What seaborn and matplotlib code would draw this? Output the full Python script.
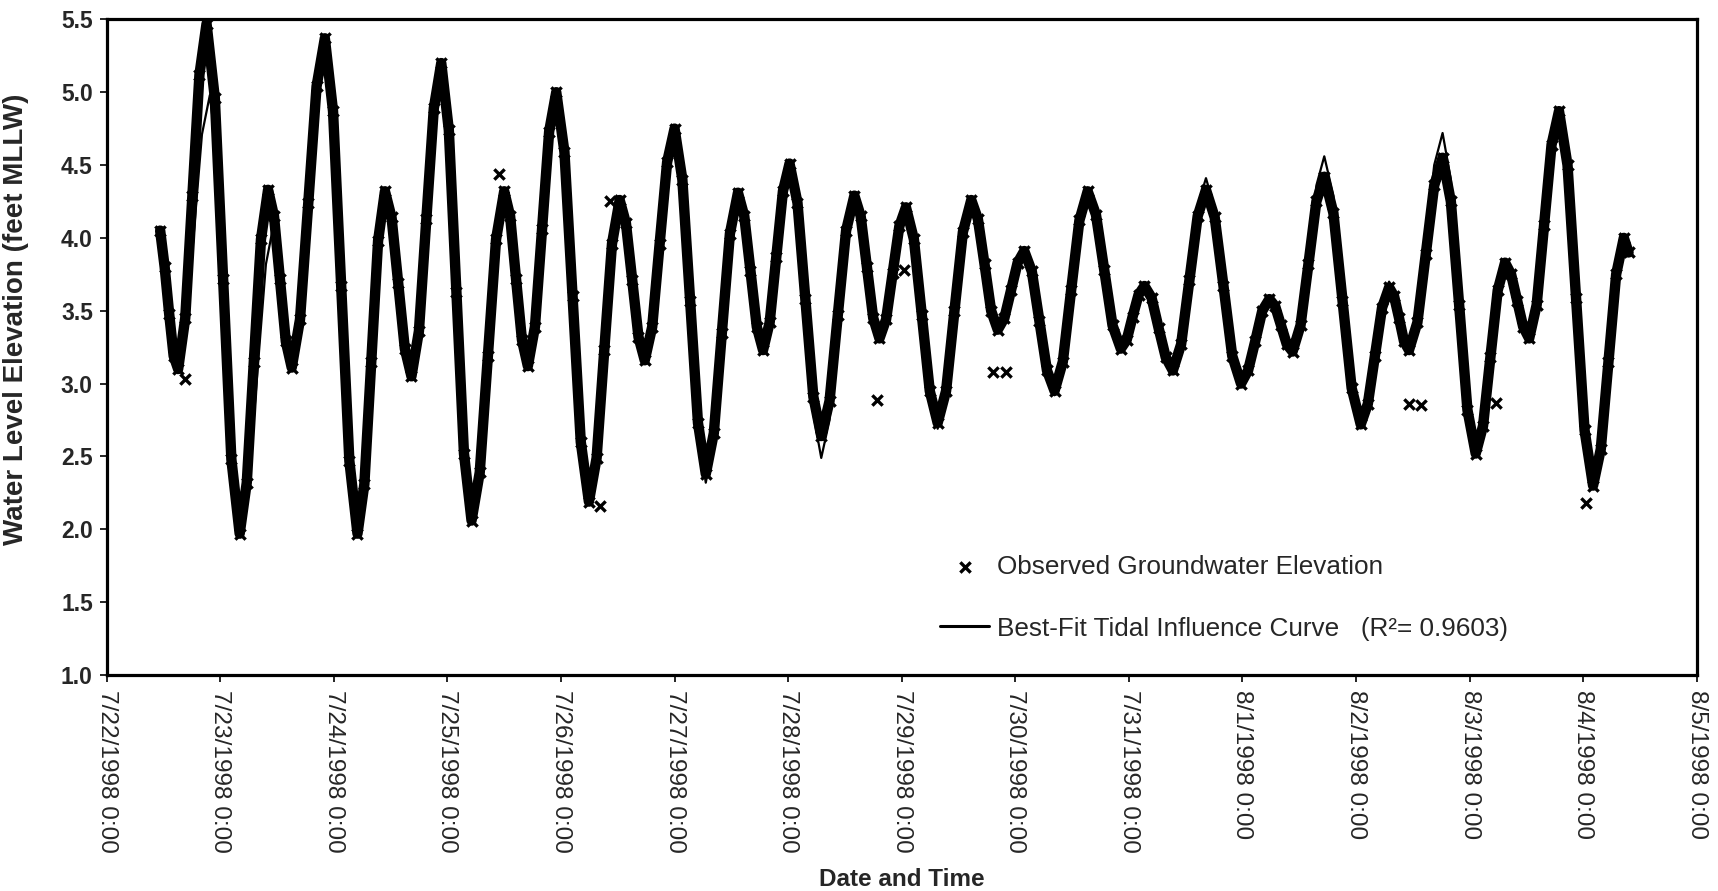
import pandas as pd
import matplotlib.pyplot as plt
import seaborn as sns

# ====== Values ======
# times are hours after 7/22/1998 0:00, levels in feet MLLW
start = pd.Timestamp("1998-07-22 00:00")

obs_hours = [
    11.3, 12.25, 13.2, 14.15,
    15.1, 16.6, 18.1, 19.6,
    21.1, 22.85, 24.6, 26.35,
    28.1, 29.6, 31.1, 32.6,
    34.1, 35.35, 36.6, 37.85,
    39.1, 40.85, 42.6, 44.35,
    46.1, 47.83, 49.55, 51.28,
    53.0, 54.45, 55.9, 57.35,
    58.8, 60.2, 61.6, 63.0,
    64.4, 65.98, 67.55, 69.13,
    70.7, 72.3, 73.9, 75.5,
    77.1, 78.83, 80.55, 82.28,
    84.0, 85.25, 86.5, 87.75,
    89.0, 90.5, 92.0, 93.5,
    95.0, 96.73, 98.45, 100.18,
    101.9, 103.53, 105.15, 106.78,
    108.4, 109.73, 111.05, 112.38,
    113.7, 115.28, 116.85, 118.43,
    120.0, 121.65, 123.3, 124.95,
    126.6, 128.3, 130.0, 131.7,
    133.4, 134.73, 136.05, 137.38,
    138.7, 140.1, 141.5, 142.9,
    144.3, 145.98, 147.65, 149.33,
    151.0, 152.75, 154.5, 156.25,
    158.0, 159.33, 160.65, 161.98,
    163.3, 164.7, 166.1, 167.5,
    168.9, 170.58, 172.25, 173.93,
    175.6, 177.38, 179.15, 180.93,
    182.7, 184.1, 185.5, 186.9,
    188.3, 189.7, 191.1, 192.5,
    193.9, 195.5, 197.1, 198.7,
    200.3, 202.05, 203.8, 205.55,
    207.3, 209.05, 210.8, 212.55,
    214.3, 215.55, 216.8, 218.05,
    219.3, 220.8, 222.3, 223.8,
    225.3, 227.05, 228.8, 230.55,
    232.3, 234.15, 236.0, 237.85,
    239.7, 241.2, 242.7, 244.2,
    245.7, 246.93, 248.15, 249.38,
    250.6, 252.28, 253.95, 255.63,
    257.3, 259.23, 261.15, 263.08,
    265.0, 266.5, 268.0, 269.5,
    271.0, 272.05, 273.1, 274.15,
    275.2, 276.98, 278.75, 280.53,
    282.3, 284.05, 285.8, 287.55,
    289.3, 290.85, 292.4, 293.95,
    295.5, 296.78, 298.05, 299.33,
    300.6, 302.18, 303.75, 305.33,
    306.9, 308.7, 310.5, 312.3,
    314.1, 315.73, 317.35, 318.98,
    320.6, 321.6,
]
obs_level = [
    4.05, 3.80, 3.48, 3.19,
    3.10, 3.45, 4.29, 5.12,
    5.47, 4.96, 3.72, 2.48,
    1.97, 2.32, 3.15, 3.99,
    4.33, 4.15, 3.72, 3.29,
    3.11, 3.44, 4.24, 5.04,
    5.37, 4.87, 3.67, 2.47,
    1.97, 2.31, 3.15, 3.98,
    4.32, 4.14, 3.69, 3.24,
    3.05, 3.36, 4.13, 4.89,
    5.20, 4.74, 3.63, 2.52,
    2.06, 2.39, 3.19, 3.99,
    4.32, 4.15, 3.72, 3.30,
    3.12, 3.39, 4.06, 4.73,
    5.00, 4.59, 3.60, 2.60,
    2.19, 2.49, 3.23, 3.96,
    4.26, 4.10, 3.71, 3.32,
    3.16, 3.39, 3.96, 4.52,
    4.75, 4.40, 3.57, 2.73,
    2.38, 2.66, 3.35, 4.03,
    4.31, 4.15, 3.77, 3.39,
    3.23, 3.42, 3.87, 4.32,
    4.51, 4.24, 3.58, 2.91,
    2.64, 2.88, 3.47, 4.05,
    4.29, 4.15, 3.80, 3.45,
    3.31, 3.44, 3.76, 4.08,
    4.21, 3.99, 3.47, 2.95,
    2.73, 2.95, 3.50, 4.04,
    4.26, 4.13, 3.82, 3.50,
    3.37, 3.45, 3.64, 3.83,
    3.91, 3.77, 3.43, 3.09,
    2.95, 3.15, 3.64, 4.12,
    4.32, 4.16, 3.78, 3.40,
    3.24, 3.30, 3.46, 3.61,
    3.67, 3.59, 3.38, 3.18,
    3.09, 3.27, 3.71, 4.15,
    4.33, 4.14, 3.67, 3.19,
    3.00, 3.09, 3.29, 3.50,
    3.58, 3.53, 3.40, 3.27,
    3.22, 3.40, 3.82, 4.25,
    4.42, 4.17, 3.57, 2.97,
    2.72, 2.86, 3.19, 3.52,
    3.66, 3.60, 3.45, 3.29,
    3.23, 3.42, 3.89, 4.36,
    4.55, 4.25, 3.54, 2.82,
    2.52, 2.71, 3.18, 3.64,
    3.83, 3.75, 3.57, 3.39,
    3.31, 3.54, 4.09, 4.64,
    4.87, 4.50, 3.59, 2.68,
    2.30, 2.55, 3.15, 3.75,
    4.00, 3.90,
]

# stray readings off the main band
stray_hours = [16.5, 83.0, 104.2, 106.3, 162.8, 168.4, 187.3, 190.0,
               275.2, 277.7, 293.6, 312.6]
stray_level = [3.03, 4.44, 2.16, 4.25, 2.89, 3.78, 3.08, 3.08,
               2.86, 2.85, 2.87, 2.18]

fit_hours = [
    11.3, 12.25, 13.2, 14.15,
    15.1, 16.78, 18.45, 20.13,
    21.8, 23.38, 24.95, 26.53,
    28.1, 29.95, 31.8, 33.65,
    35.5, 36.43, 37.35, 38.28,
    39.2, 40.9, 42.6, 44.35,
    46.1, 47.83, 49.55, 51.28,
    53.0, 54.45, 55.9, 57.35,
    58.8, 60.2, 61.6, 63.0,
    64.4, 65.98, 67.55, 69.13,
    70.7, 72.3, 73.9, 75.5,
    77.1, 78.83, 80.55, 82.28,
    84.0, 85.25, 86.5, 87.75,
    89.0, 90.5, 92.0, 93.5,
    95.0, 96.73, 98.45, 100.18,
    101.9, 103.53, 105.15, 106.78,
    108.4, 109.73, 111.05, 112.38,
    113.7, 115.28, 116.85, 118.43,
    120.0, 121.65, 123.3, 124.95,
    126.6, 128.3, 130.0, 131.7,
    133.4, 134.73, 136.05, 137.38,
    138.7, 140.1, 141.5, 142.9,
    144.3, 145.98, 147.65, 149.33,
    151.0, 152.75, 154.5, 156.25,
    158.0, 159.33, 160.65, 161.98,
    163.3, 164.7, 166.1, 167.5,
    168.9, 170.58, 172.25, 173.93,
    175.6, 177.38, 179.15, 180.93,
    182.7, 184.1, 185.5, 186.9,
    188.3, 189.7, 191.1, 192.5,
    193.9, 195.5, 197.1, 198.7,
    200.3, 202.05, 203.8, 205.55,
    207.3, 209.05, 210.8, 212.55,
    214.3, 215.55, 216.8, 218.05,
    219.3, 220.8, 222.3, 223.8,
    225.3, 227.05, 228.8, 230.55,
    232.3, 234.15, 236.0, 237.85,
    239.7, 241.2, 242.7, 244.2,
    245.7, 246.93, 248.15, 249.38,
    250.6, 252.28, 253.95, 255.63,
    257.3, 259.23, 261.15, 263.08,
    265.0, 266.5, 268.0, 269.5,
    271.0, 272.05, 273.1, 274.15,
    275.2, 276.98, 278.75, 280.53,
    282.3, 284.05, 285.8, 287.55,
    289.3, 290.85, 292.4, 293.95,
    295.5, 296.78, 298.05, 299.33,
    300.6, 302.18, 303.75, 305.33,
    306.9, 308.7, 310.5, 312.3,
    314.1, 315.73, 317.35, 318.98,
    320.6, 321.6,
]
fit_level = [
    4.05, 3.80, 3.48, 3.20,
    3.12, 3.39, 4.05, 4.71,
    4.98, 4.54, 3.48, 2.42,
    1.98, 2.29, 3.06, 3.82,
    4.13, 3.99, 3.64, 3.29,
    3.14, 3.44, 4.24, 5.04,
    5.37, 4.87, 3.67, 2.47,
    1.97, 2.31, 3.15, 3.98,
    4.32, 4.14, 3.69, 3.24,
    3.05, 3.36, 4.13, 4.89,
    5.20, 4.74, 3.63, 2.52,
    2.06, 2.39, 3.19, 3.99,
    4.32, 4.15, 3.72, 3.30,
    3.12, 3.39, 4.06, 4.73,
    5.00, 4.59, 3.60, 2.60,
    2.19, 2.49, 3.23, 3.96,
    4.26, 4.10, 3.71, 3.32,
    3.16, 3.39, 3.96, 4.52,
    4.75, 4.40, 3.54, 2.68,
    2.32, 2.61, 3.32, 4.02,
    4.31, 4.15, 3.77, 3.39,
    3.23, 3.42, 3.87, 4.32,
    4.51, 4.22, 3.50, 2.79,
    2.49, 2.75, 3.39, 4.03,
    4.29, 4.15, 3.80, 3.45,
    3.31, 3.44, 3.76, 4.08,
    4.21, 3.99, 3.45, 2.91,
    2.69, 2.92, 3.48, 4.03,
    4.26, 4.13, 3.82, 3.50,
    3.37, 3.45, 3.64, 3.83,
    3.91, 3.77, 3.42, 3.07,
    2.92, 3.12, 3.62, 4.12,
    4.32, 4.16, 3.78, 3.40,
    3.24, 3.30, 3.46, 3.61,
    3.67, 3.59, 3.38, 3.18,
    3.09, 3.28, 3.75, 4.22,
    4.41, 4.20, 3.71, 3.21,
    3.00, 3.09, 3.29, 3.50,
    3.58, 3.53, 3.40, 3.27,
    3.22, 3.42, 3.89, 4.36,
    4.56, 4.29, 3.64, 2.99,
    2.72, 2.86, 3.21, 3.56,
    3.70, 3.63, 3.47, 3.30,
    3.23, 3.45, 3.98, 4.50,
    4.72, 4.40, 3.62, 2.84,
    2.52, 2.71, 3.18, 3.64,
    3.83, 3.75, 3.57, 3.39,
    3.31, 3.54, 4.09, 4.64,
    4.87, 4.50, 3.59, 2.67,
    2.29, 2.55, 3.15, 3.75,
    4.00, 3.90,
]

tick_days = ["1998-07-22", "1998-07-23", "1998-07-24", "1998-07-25",
             "1998-07-26", "1998-07-27", "1998-07-28", "1998-07-29",
             "1998-07-30", "1998-07-31", "1998-08-01", "1998-08-02",
             "1998-08-03", "1998-08-04", "1998-08-05"]
tick_labels = ["7/22/1998 0:00", "7/23/1998 0:00", "7/24/1998 0:00",
               "7/25/1998 0:00", "7/26/1998 0:00", "7/27/1998 0:00",
               "7/28/1998 0:00", "7/29/1998 0:00", "7/30/1998 0:00",
               "7/31/1998 0:00", "8/1/1998 0:00", "8/2/1998 0:00",
               "8/3/1998 0:00", "8/4/1998 0:00", "8/5/1998 0:00"]
y_ticks = [1.0, 1.5, 2.0, 2.5, 3.0, 3.5, 4.0, 4.5, 5.0, 5.5]

obs = pd.DataFrame({"time": start + pd.to_timedelta(obs_hours, unit="h"),
                    "level": obs_level})
stray = pd.DataFrame({"time": start + pd.to_timedelta(stray_hours, unit="h"),
                      "level": stray_level})
points = pd.concat([obs, stray], ignore_index=True)
fit = pd.DataFrame({"time": start + pd.to_timedelta(fit_hours, unit="h"),
                    "level": fit_level})

fit_label = "Best-Fit Tidal Influence Curve   (R\u00b2= 0.9603)"

# ====== Plot ======
sns.set_theme(style="white")
plt.rcParams["font.family"] = ["Liberation Sans", "DejaVu Sans"]

fig, ax = plt.subplots(figsize=(17.18, 8.91), dpi=100)
fig.subplots_adjust(left=0.0621, right=0.9876, top=0.9783, bottom=0.2424)

# the readings are so dense they merge into a thick band
sns.lineplot(data=obs, x="time", y="level", color="black", linewidth=7.5,
             estimator=None, legend=False, ax=ax)
sns.scatterplot(data=points, x="time", y="level", marker="x", s=55,
                color="black", linewidth=2.4, zorder=3, ax=ax,
                label="Observed Groundwater Elevation")
sns.lineplot(data=fit, x="time", y="level", color="black", linewidth=1.6,
             estimator=None, zorder=4, ax=ax, label=fit_label)

ax.set_xlim(pd.Timestamp(tick_days[0]), pd.Timestamp(tick_days[-1]))
ax.set_ylim(1.0, 5.5)
ax.set_xticks(pd.to_datetime(tick_days))
ax.set_xticklabels(tick_labels, rotation=-90, ha="center", va="top", fontsize=17.6)
ax.set_yticks(y_ticks)
ax.set_yticklabels([f"{v:.1f}" for v in y_ticks], fontsize=16.5, fontweight="bold")
ax.tick_params(axis="both", direction="out", length=5, width=1.2,
               color="black", bottom=True, left=True)
ax.tick_params(axis="x", pad=6)
ax.tick_params(axis="y", pad=5)

for sp in ax.spines.values():
    sp.set_visible(True)
    sp.set_color("black")
    sp.set_linewidth(2.3)

ax.set_xlabel("Date and Time", fontsize=17.5, fontweight="bold")
ax.set_ylabel("Water Level Elevation (feet MLLW)", fontsize=20, fontweight="bold")
ax.xaxis.set_label_coords(0.5, -0.294)
ax.yaxis.set_label_coords(-0.049, 0.542)

handles, labels = ax.get_legend_handles_labels()
order = [labels.index("Observed Groundwater Elevation"), labels.index(fit_label)]
leg = ax.legend([handles[i] for i in order], [labels[i] for i in order],
                loc="center left", bbox_to_anchor=(0.524, 0.118), frameon=False,
                fontsize=18.8, handlelength=1.9, handletextpad=0.3,
                labelspacing=1.45, borderpad=0, borderaxespad=0)
leg.get_lines()[0].set_linewidth(2.2)

plt.savefig("out.png", dpi=100)
